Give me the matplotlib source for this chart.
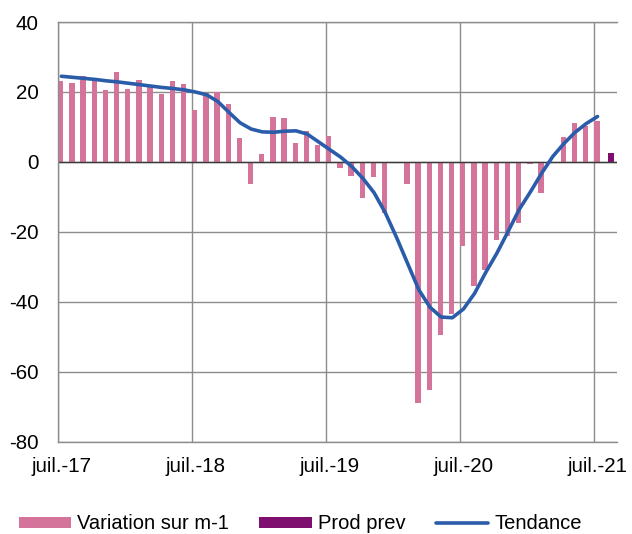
import numpy as np
import matplotlib
matplotlib.use('Agg')
import matplotlib.pyplot as plt
from matplotlib.ticker import FixedLocator, NullFormatter

plt.rcParams['font.family'] = ['Liberation Sans', 'DejaVu Sans']
plt.rcParams['axes.unicode_minus'] = False

# monthly series, juil.-17 .. juil.-21
variation = [23.2, 22.5, 24.6, 23.9, 20.6, 25.7, 20.8, 23.3, 21.7, 19.3, 23.1, 22.3,
             14.8, 19.8, 20.1, 16.6, 6.9, -6.4, 2.4, 12.9, 12.6, 5.4, 8.9, 4.9,
             7.3, -1.8, -3.9, -10.2, -4.3, -14.5, 0.0, -6.2, -68.8, -65.1, -49.5, -43.3,
             -24.1, -35.5, -31.0, -22.3, -21.2, -17.5, -0.7, -9.0, 0.0, 7.2, 11.0, 10.3, 11.7]
tendance = [24.5, 24.2, 23.9, 23.6, 23.2, 22.9, 22.5, 22.1, 21.7, 21.3, 21.0, 20.6,
            20.0, 19.2, 17.3, 14.2, 11.2, 9.4, 8.6, 8.5, 8.8, 8.9, 8.0, 5.8,
            3.6, 1.4, -1.3, -4.7, -8.8, -14.5, -21.5, -29.0, -36.5, -41.5, -44.3, -44.5,
            -42.0, -37.5, -31.5, -26.0, -19.8, -13.5, -8.5, -3.2, 1.6, 5.3, 8.5, 11.0, 13.0]
prod_prev_month = 49   # août-21
prod_prev = 2.7

year_ticks = [0, 12, 24, 36, 48]
year_labels = ['juil.-17', 'juil.-18', 'juil.-19', 'juil.-20', 'juil.-21']

pink = '#D4749A'
purple = '#7F0F6E'
blue = '#2A5CAA'
grey = '#8C8C8C'

months = np.arange(len(variation))

fig = plt.figure(figsize=(6.32, 5.34), dpi=100)
fig.patch.set_facecolor('white')
ax = fig.add_axes([0.0918, 0.1723, 0.8837, 0.7865])

b1 = ax.bar(months + 0.24, variation, width=0.48, color=pink, label='Variation sur m-1', zorder=2)
b2 = ax.bar(prod_prev_month + 0.49, prod_prev, width=0.48, color=purple, label='Prod prev', zorder=2)
l1, = ax.plot(months + 0.3, tendance, color=blue, linewidth=2.6, solid_capstyle='round',
              solid_joinstyle='round', label='Tendance', zorder=3)

ax.axhline(0, color='#3A3A3A', linewidth=1.0, zorder=2.5)

ax.set_xlim(0, 50)
ax.set_ylim(-80, 40)
ax.set_yticks(np.arange(-80, 41, 20))

# year gridlines on major ticks, labels on minor ticks next to the bars
ax.xaxis.set_major_locator(FixedLocator(year_ticks))
ax.xaxis.set_major_formatter(NullFormatter())
ax.xaxis.set_minor_locator(FixedLocator([t + 0.28 for t in year_ticks]))
ax.set_xticklabels(year_labels, minor=True)

ax.grid(True, which='major', color=grey, linewidth=1.0, zorder=0)
ax.set_axisbelow(True)
ax.tick_params(axis='both', which='both', length=0, labelsize=14.8, colors='black')
ax.tick_params(axis='y', pad=14)
ax.tick_params(axis='x', which='minor', pad=11)

for s in ['left', 'bottom', 'top']:
    ax.spines[s].set_color(grey)
    ax.spines[s].set_linewidth(1.0)
ax.spines['right'].set_visible(False)

fig.legend(handles=[b1, b2, l1], loc='center', bbox_to_anchor=(0.475, 0.019), ncol=3,
           frameon=False, fontsize=14.5, handlelength=2.6, handleheight=0.45,
           handletextpad=0.3, columnspacing=1.5)

plt.savefig('out.png', dpi=100)
